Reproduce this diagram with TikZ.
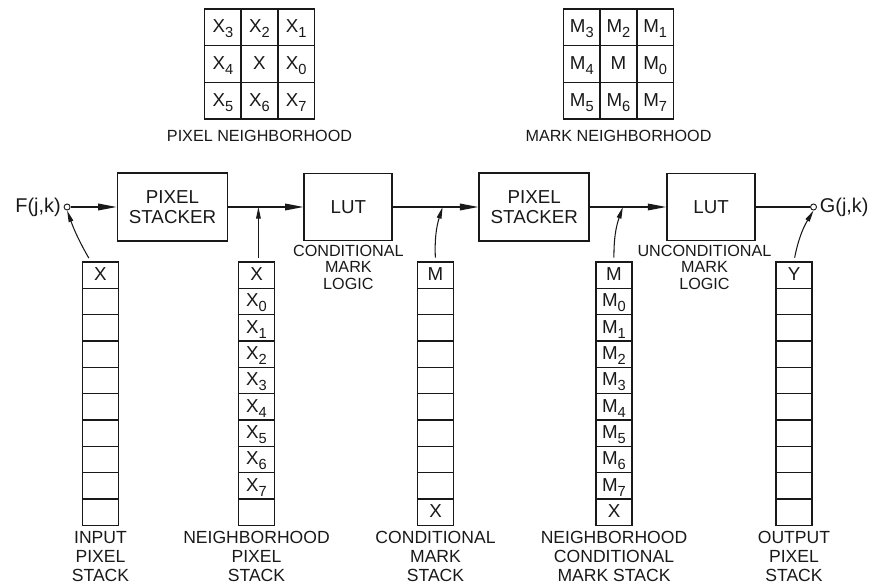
\documentclass[tikz,border=0pt]{standalone}
\usepackage{fontspec}
\setmainfont{Liberation Sans}
\usetikzlibrary{calc,arrows.meta,positioning,matrix}
\definecolor{lineColor}{RGB}{25,25,25}
\newcommand{\diagfont}{\fontsize{16}{17}\selectfont}
\newcommand{\diagsmallfont}{\fontsize{13.8}{14}\selectfont}
\newcommand{\stackfont}{\fontsize{15}{16.2}\selectfont}
\newcommand{\portfont}{\fontsize{17}{18}\selectfont}
\newcommand{\cellfont}{\fontsize{16}{17}\selectfont}
\newcommand{\lsub}[1]{\raisebox{-0.5ex}{\fontsize{12.5}{12.5}\selectfont #1}}

\begin{document}
\begin{tikzpicture}[x=0.3mm, y=0.3mm,
    every node/.style={text=lineColor},
    blk/.style={draw=lineColor, line width=1.6pt, minimum width=33mm, minimum height=20.4mm, align=center, font=\diagfont},
    lut/.style={blk, minimum width=26.4mm, minimum height=20.1mm},
    port/.style={draw=lineColor, circle, line width=0.8pt, inner sep=0pt, minimum size=1.8mm},
    cell/.style={draw=lineColor, line width=1.2pt, inner sep=0pt, font=\cellfont, text height=11.4pt, text depth=2pt},
    stack/.style={matrix of nodes, nodes in empty cells, anchor=north, inner sep=0pt, row sep=-1.2pt, nodes={cell, minimum width=10.8mm, minimum height=7.9mm}},
    nbgrid/.style={matrix of nodes, inner sep=0pt, row sep=-1.2pt, column sep=-1.2pt, nodes={cell, minimum size=11mm}},
    lbl/.style={align=center, font=\diagsmallfont, inner sep=0.5mm},
    slbl/.style={align=center, font=\stackfont, inner sep=0.5mm},
    arr/.style={-{Triangle[length=5.5mm, width=2mm]}, line width=1pt, lineColor},
    feed/.style={-{Triangle[length=3.5mm, width=1.4mm]}, line width=0.9pt, lineColor, shorten <=1mm}
  ]
  \useasboundingbox (0,0) rectangle (870,587);

  \matrix[nbgrid] (pixnb) at (259.5,523) {
    X\lsub3 & X\lsub2 & X\lsub1 \\
    X\lsub4 & X & X\lsub0 \\
    X\lsub5 & X\lsub6 & X\lsub7 \\
  };
  \node[lbl, below=2.5mm of pixnb] (pixnblbl) {PIXEL NEIGHBORHOOD};
  \matrix[nbgrid] (marknb) at (618.5,523) {
    M\lsub3 & M\lsub2 & M\lsub1 \\
    M\lsub4 & M & M\lsub0 \\
    M\lsub5 & M\lsub6 & M\lsub7 \\
  };
  \node[lbl, below=2.5mm of marknb] (marknblbl) {MARK NEIGHBORHOOD};

  \node[blk] (ps1) at (172.5,380) {PIXEL\\STACKER};
  \node[lut, right=22.5mm of ps1] (lut1) {LUT};
  \node[blk, right=25.5mm of lut1] (ps2) {PIXEL\\STACKER};
  \node[lut, right=22.8mm of ps2] (lut2) {LUT};
  \node[port, left=13.8mm of ps1] (fin) {};
  \node[port, right=16.2mm of lut2] (fout) {};
  \node[left=0.3mm of fin, font=\portfont, inner sep=0.5mm] (finlbl) {F(j,k)};
  \node[right=0.3mm of fout, font=\portfont, inner sep=0.5mm] (foutlbl) {G(j,k)};
  \node[lbl, below=0.5mm of lut1] (lut1lbl) {CONDITIONAL\\MARK\\LOGIC};
  \node[lbl, below=0.5mm of lut2, xshift=-2mm] (lut2lbl) {UNCONDITIONAL\\MARK\\LOGIC};

  \coordinate (j1) at ($(ps1.east)!0.4!(lut1.west)$);
  \coordinate (j2) at ($(lut1.east)!0.58!(ps2.west)$);
  \coordinate (j3) at ($(ps2.east)!0.43!(lut2.west)$);

  \matrix[stack] (ins) at (100.5,326) {X\\ \\ \\ \\ \\ \\ \\ \\ \\ \\};
  \matrix[stack] (nbs) at (256.5,326) {X\\ X\lsub0\\ X\lsub1\\ X\lsub2\\ X\lsub3\\ X\lsub4\\ X\lsub5\\ X\lsub6\\ X\lsub7\\ \\};
  \matrix[stack] (cms) at (435.5,326) {M\\ \\ \\ \\ \\ \\ \\ \\ \\ X\\};
  \matrix[stack] (ncms) at (614,326) {M\\ M\lsub0\\ M\lsub1\\ M\lsub2\\ M\lsub3\\ M\lsub4\\ M\lsub5\\ M\lsub6\\ M\lsub7\\ X\\};
  \matrix[stack] (outs) at (794,326) {Y\\ \\ \\ \\ \\ \\ \\ \\ \\ \\};

  \node[slbl, below=1mm of ins] (inslbl) {INPUT\\PIXEL\\STACK};
  \node[slbl, below=1mm of nbs] (nbslbl) {NEIGHBORHOOD\\PIXEL\\STACK};
  \node[slbl, below=1mm of cms] (cmslbl) {CONDITIONAL\\MARK\\STACK};
  \node[slbl, below=1mm of ncms] (ncmslbl) {NEIGHBORHOOD\\CONDITIONAL\\MARK STACK};
  \node[slbl, below=1mm of outs] (outslbl) {OUTPUT\\PIXEL\\STACK};

  \draw[arr] (fin) -- (ps1);
  \draw[arr] (ps1) -- (lut1);
  \draw[arr] (lut1) -- (ps2);
  \draw[arr] (ps2) -- (lut2);
  \draw[line width=1pt, lineColor] (lut2) -- (fout);
  \draw[feed] ([xshift=-3mm]ins.north) to[bend left=5] (fin.south);
  \draw[feed] (nbs.north -| j1) -- (j1);
  \draw[feed] (cms.north) to[bend left=10] (j2);
  \draw[feed] (ncms.north) to[bend left=10] (j3);
  \draw[feed] (outs.north) to[bend left=10] (fout.south);
\end{tikzpicture}
\end{document}
